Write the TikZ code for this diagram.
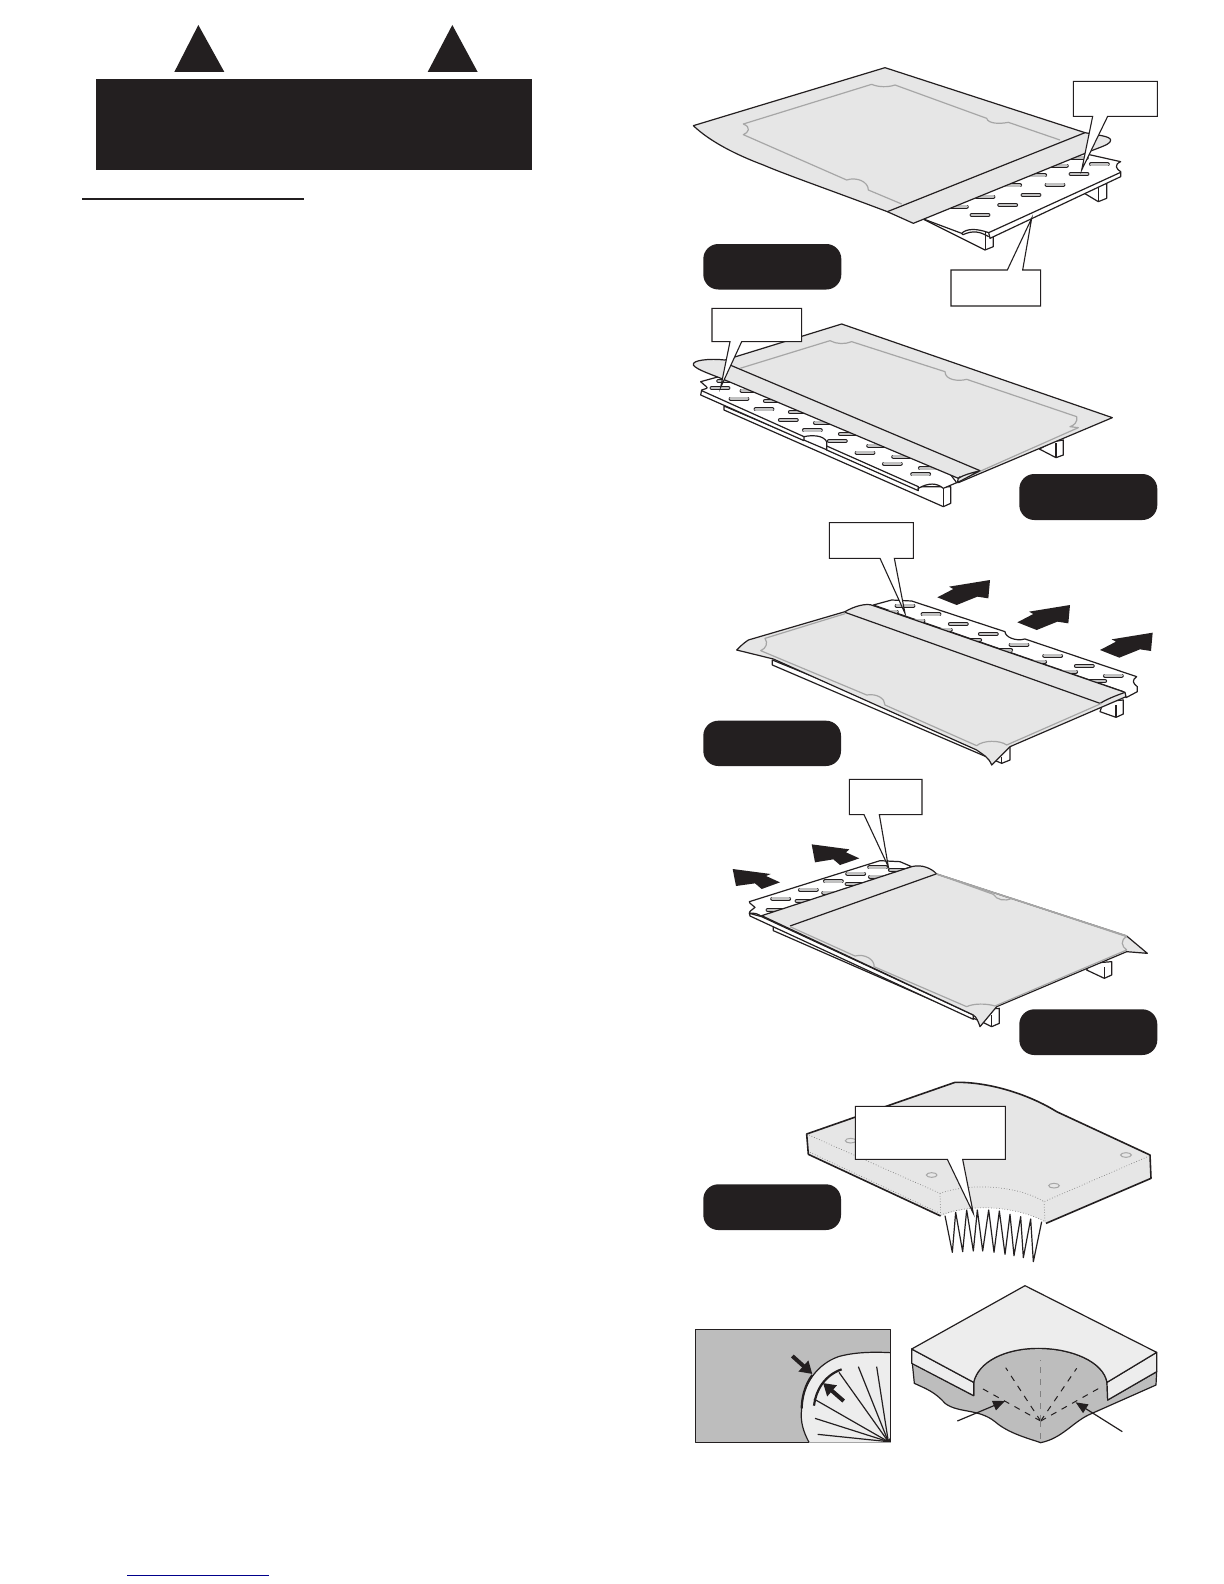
\documentclass[tikz,border=0pt]{standalone}
\usetikzlibrary{arrows.meta}
\definecolor{inkblk}{HTML}{231F20}
\definecolor{sheetgray}{HTML}{E6E6E6}
\definecolor{midgray}{HTML}{BDBDBD}
\definecolor{edgegray}{HTML}{A6A6A6}
\definecolor{paleface}{HTML}{EDEDED}
\definecolor{linkblue}{HTML}{00008B}
\tikzset{
  ln/.style={draw=inkblk,line width=0.6pt,line join=round},
  board/.style={ln,fill=white},
  sheet/.style={ln,fill=sheetgray},
  inner/.style={draw=edgegray,line width=0.6pt,line join=round},
  callout/.style={draw=inkblk,line width=0.55pt,fill=white,line join=miter},
  blockarrow/.style={fill=inkblk,draw=none},
  pill/.style={fill=inkblk,draw=none,rounded corners=7.5pt},
  panel/.style={shift={#1},scale=0.33333},
}
% slot centred at (#1,#2) in panel coordinates
\newcommand{\slotat}[2]{%
  \draw[inkblk,line width=2.1pt,line cap=round] (#1-25,#2) -- (#1+25,#2);
  \draw[edgegray!70,line width=1.3pt,line cap=round] (#1-25,#2) -- (#1+25,#2);}
\begin{document}
\begin{tikzpicture}[x=0.5pt,y=-0.5pt]
\useasboundingbox (0,0) rectangle (1224,1584);
\fill[white] (0,0) rectangle (1224,1584);

%% ---------- Header ----------
\begin{scope}[panel={(70,15)}]
  \fill[inkblk] (385,30) -- (313,171) -- (463,171) -- cycle;
  \fill[inkblk] (1147,30) -- (1073,171) -- (1223,171) -- cycle;
  \fill[inkblk] (78,192) rectangle (1386,464);
  \draw[inkblk,line width=0.6pt] (37,552) -- (702,552);
\end{scope}
\draw[draw=linkblue,line width=0.5pt] (127,1575) -- (269,1575);

%% ---------- Pills ----------
\fill[pill] (703.3,244) rectangle (841.3,289.5);
\fill[pill] (1019.3,474) rectangle (1157.3,520);
\fill[pill] (703.3,720.7) rectangle (841,766);
\fill[pill] (1019.3,1009.3) rectangle (1157.3,1055);
\fill[pill] (703.3,1184.3) rectangle (841,1230);

%% ---------- Panel 1 ----------
\begin{scope}[panel={(680,50)}]
  % feet
  \draw[board] (1205,425) -- (1255,455) -- (1280,445) -- (1280,400) -- (1250,410) -- cycle;
  \draw[ln] (1255,455) -- (1255,412);
  \draw[board] (725,505) -- (915,600) -- (940,590) -- (940,540) -- (900,520) -- cycle;
  \draw[ln] (917,600) -- (917,545);
  % board
  \draw[board] (1000,280) -- (1210,310) -- (1322,335) .. controls (1300,345) and (1310,358) .. (1322,365) -- (1322,380) -- (930,565) -- (926,548) .. controls (890,535) and (860,535) .. (845,550) -- (725,505) -- cycle;
  \draw[ln] (1322,367) -- (926,548);
  \draw[ln] (845,550) -- (849,554) .. controls (880,540) and (900,545) .. (926,560);
  \foreach \a/\b in {1197/372,1258/343,1125/404,1053/435,983/465,900/495,1195/323,1135/347,1070/376,995/406,915/440,835/470}{\slotat{\a}{\b}}
  % sheet
  \draw[sheet] (40,227) -- (615,53) -- (1215,248) .. controls (1250,255) and (1290,258) .. (1292,270) .. controls (1292,280) and (1280,285) .. (1240,300) -- (700,520) -- (622,485) .. controls (450,420) and (320,375) .. (250,345) .. controls (170,315) and (90,275) .. (40,227) -- cycle;
  \draw[ln] (622,485) -- (1215,248);
  \draw[inner] (1140,270) -- (985,217) .. controls (960,222) and (925,222) .. (920,205) -- (645,105) .. controls (625,112) and (595,112) .. (575,103) -- (190,222) .. controls (215,232) and (205,248) .. (190,254) -- (500,390) .. controls (530,380) and (565,395) .. (565,420) -- (665,462);
  % callouts
  \draw[callout] (1180,94) -- (1432,94) -- (1432,199) -- (1283,199) -- (1205,360) -- (1238,199) -- (1180,199) -- cycle;
  \draw[callout] (813,660) -- (982,660) -- (1055,505) -- (1028,660) -- (1082,660) -- (1082,768) -- (813,768) -- cycle;
\end{scope}

%% ---------- Panel 2 ----------
\begin{scope}[panel={(680,300)}]
  \draw[board] (1078,447) -- (1128,473) -- (1150,465) -- (1150,420) -- (1120,425) -- cycle;
  \draw[ln] (1128,473) -- (1128,430);
  % rail and front foot
  \draw[board] (132,318) -- (132,330) -- (790,620) -- (812,610) -- (812,560) -- (700,560) -- cycle;
  \draw[ln] (790,620) -- (790,565);
  % board
  \draw[board] (135,225) -- (62,245) .. controls (75,258) and (85,262) .. (80,265) -- (65,270) -- (62,285) -- (372,422) -- (372,410) .. controls (395,405) and (430,405) .. (440,425) -- (440,450) -- (715,572) -- (715,565) .. controls (745,548) and (770,548) .. (790,565) -- (830,548) -- (640,300) -- cycle;
  \draw[ln] (65,272) -- (372,410);
  \draw[ln] (440,438) -- (715,560) -- (715,572);
  \foreach \a/\b in {120/264,177/296,252/328,325/360,397/391,472/423,555/458,637/491,722/523,140/243,210/272,280/303,355/336,430/368,505/402,590/437,665/470,745/505}{\slotat{\a}{\b}}
  % sheet
  \draw[sheet] (485,72) -- (1297,353) -- (835,548) .. controls (838,530) and (845,525) .. (835,535) -- (135,240) .. controls (100,225) and (50,210) .. (40,195) .. controls (35,180) and (90,175) .. (135,180) -- cycle;
  \draw[ln] (150,195) -- (900,512);
  \draw[inner] (180,205) -- (450,122) .. controls (470,133) and (495,133) .. (515,125) -- (795,215) .. controls (795,240) and (835,245) .. (860,238) -- (1190,350) .. controls (1195,365) and (1180,378) .. (1170,380) -- (1195,383) -- (830,545);
  \draw[ln,fill=sheetgray] (835,535) .. controls (850,525) and (870,520) .. (900,512) -- (832,548) -- cycle;
  % callout
  \draw[callout] (96,25) -- (365,25) -- (365,125) -- (185,125) -- (122,262) -- (150,125) -- (96,125) -- cycle;
\end{scope}

%% ---------- Panel 3 ----------
\begin{scope}[panel={(690,515)}]
  \draw[board] (1230,590) -- (1278,607) -- (1300,597) -- (1300,555) -- (1240,560) -- cycle;
  \draw[ln] (1278,607) -- (1278,570);
  \draw[board] (247,435) -- (247,450) -- (935,745) -- (960,735) -- (960,695) -- (900,700) -- cycle;
  \draw[ln] (935,747) -- (935,725);
  % board
  \draw[board] (550,270) -- (605,255) -- (665,258) -- (945,350) .. controls (945,365) and (975,380) .. (1005,372) -- (1340,485) .. controls (1325,495) and (1328,505) .. (1342,515) -- (1342,530) -- (1308,548) -- (1300,530) -- cycle;
  \foreach \a/\b in {645/272,723/298,805/327,895/357,987/389,1088/422,1183/453,1270/482,595/290,675/317,757/344,845/375,938/406,1040/440,1133/470,1220/498}{\slotat{\a}{\b}}
  % sheet
  \draw[sheet] (140,405) .. controls (150,395) and (160,385) .. (175,375) -- (465,290) .. controls (490,275) and (530,262) .. (550,272) -- (1305,532) -- (1308,545) -- (960,695) -- (905,750) .. controls (895,725) and (880,720) .. (860,705) -- (250,432) -- cycle;
  \draw[ln] (465,292) -- (1230,565);
  \draw[ln] (1230,565) .. controls (1265,545) and (1290,538) .. (1305,532);
  \draw[inner] (465,296) -- (225,370) .. controls (235,385) and (228,400) .. (212,407) -- (530,540) .. controls (560,535) and (585,550) .. (585,570) -- (860,692) .. controls (880,675) and (930,675) .. (950,690) -- (1235,565);
  % arrows
  \fill[blockarrow] (900,195) -- (895,250) -- (862,245) -- (800,270) -- (742,247) -- (790,222) -- (777,215) -- cycle;
  \fill[blockarrow] (1140,270) -- (1135,325) -- (1102,320) -- (1040,345) -- (982,322) -- (1030,297) -- (1017,290) -- cycle;
  \fill[blockarrow] (1388,353) -- (1383,408) -- (1350,403) -- (1288,428) -- (1230,405) -- (1278,380) -- (1265,373) -- cycle;
  \draw[callout] (418,23) -- (670,23) -- (670,130) -- (613,130) -- (645,295) -- (570,130) -- (418,130) -- cycle;
\end{scope}

%% ---------- Panel 4 ----------
\begin{scope}[panel={(690,770)}]
  \draw[board] (1190,600) -- (1243,625) -- (1265,615) -- (1265,575) -- (1200,580) -- cycle;
  \draw[ln] (1243,625) -- (1243,590);
  \draw[board] (250,470) -- (250,482) -- (885,760) -- (905,770) -- (928,760) -- (928,715) -- (850,720) -- cycle;
  \draw[ln] (905,770) -- (905,735);
  % board
  \draw[board] (178,395) -- (570,272) -- (630,275) -- (665,290) -- (215,440) .. controls (205,432) and (195,428) .. (178,430) .. controls (178,420) and (190,420) .. (195,412) .. controls (190,405) and (178,402) .. (178,395) -- cycle;
  \draw[board] (178,430) -- (180,438) -- (850,748) -- (850,735) -- (215,440) -- cycle;
  \foreach \a/\b in {272/386,355/359,430/334,497/311,563/292,258/420,345/393,425/368,495/342,565/320,625/300}{\slotat{\a}{\b}}
  % sheet
  \draw[sheet] (215,437) -- (665,290) .. controls (695,282) and (725,295) .. (740,312) -- (1310,498) -- (1372,550) -- (1310,545) -- (920,710) -- (870,770) .. controls (865,755) and (860,742) .. (850,735) -- cycle;
  \draw[ln] (300,468) -- (738,312);
  \draw[inner] (740,312) -- (910,373) .. controls (920,390) and (945,395) .. (965,385) -- (1310,500) .. controls (1290,510) and (1295,530) .. (1310,540) -- (915,708) .. controls (890,700) and (850,700) .. (830,710) -- (552,590) .. controls (555,570) and (525,550) .. (495,558) -- (300,470);
  \draw[draw=edgegray,line width=0.8pt] (740,312) -- (1310,498);
  % arrows
  \fill[blockarrow] (128,297) -- (242,312) -- (228,318) -- (270,337) -- (215,357) -- (195,340) -- (138,348) -- cycle;
  \fill[blockarrow] (365,223) -- (478,238) -- (468,247) -- (508,265) -- (450,285) -- (430,268) -- (375,277) -- cycle;
  \draw[callout] (478,28) -- (696,28) -- (696,134) -- (568,134) -- (595,290) -- (522,134) -- (478,134) -- cycle;
\end{scope}

%% ---------- Panel 5 ----------
\begin{scope}[panel={(690,1065)}]
  % zigzag
  \draw[ln] (765,452) -- (787,562) -- (797,442) -- (818,560) -- (830,435) -- (850,558) -- (862,435) -- (878,558) -- (896,435) -- (912,562) -- (928,438) -- (945,568) -- (960,448) -- (972,572) -- (992,455) -- (1000,578) -- (1022,462) -- (1030,590) -- (1055,470);
  % mattress
  \fill[sheetgray] (350,207) -- (795,52) .. controls (900,50) and (1020,90) .. (1100,140) -- (1380,270) -- (1383,340) -- (1068,475) -- (1060,468) .. controls (990,430) and (860,410) .. (752,453) -- (355,268) -- cycle;
  \draw[ln,line width=0.8pt] (752,453) -- (355,268) -- (350,207) -- (795,52) .. controls (900,50) and (1020,90) .. (1100,140) -- (1380,270) -- (1383,340) -- (1068,475);
  \draw[draw=gray,densely dotted,line width=0.35pt] (350,207) -- (750,385) .. controls (850,350) and (990,365) .. (1062,410) -- (1380,272);
  \draw[draw=gray,densely dotted,line width=0.35pt] (750,385) -- (752,450) .. controls (860,410) and (990,430) .. (1065,470) -- (1062,410);
  \draw[draw=gray,densely dotted,line width=0.35pt] (360,262) -- (748,444);
  \foreach \a/\b in {482/227,725/330,1092/362,1308/270}{\draw[draw=edgegray,line width=0.5pt] (\a,\b) ellipse[x radius=16,y radius=7];}
  \draw[callout] (496,124) -- (946,124) -- (946,283) -- (818,283) -- (850,445) -- (772,283) -- (496,283) -- cycle;
\end{scope}

%% ---------- Bottom panels ----------
\begin{scope}[panel={(685,1275)}]
  % left view
  \fill[midgray] (31,163) rectangle (617,502);
  \fill[paleface] (372,502) .. controls (355,470) and (345,440) .. (350,400) .. controls (352,330) and (395,268) .. (460,245) .. controls (505,232) and (560,230) .. (617,233) -- (617,502) -- cycle;
  \draw[ln] (372,502) .. controls (355,470) and (345,440) .. (350,400) .. controls (352,330) and (395,268) .. (460,245) .. controls (505,232) and (560,230) .. (617,233);
  \draw[ln,line width=1.1pt] (350,400) .. controls (351,365) and (360,330) .. (382,300);
  \foreach \a/\b in {398/478,390/430,387/372,462/292,520/275,575/275}{\draw[ln] (610,500) -- (\a,\b);}
  \fill[inkblk] (606,497) -- (617,488) -- (617,502) -- (598,502) -- cycle;
  \draw[ln,line width=1.1pt] (387,392) .. controls (392,345) and (420,300) .. (470,283);
  \draw[ln] (31,163) -- (617,163) -- (617,502) (372,502) -- (31,502) -- (31,163);
  \draw[draw=edgegray,line width=0.6pt] (372,503) -- (617,503);
  \draw[inkblk,line width=2pt,-{Triangle[length=6pt,width=7pt]}] (322,243) -- (382,297);
  \draw[inkblk,line width=2pt,-{Triangle[length=6pt,width=7pt]}] (476,378) -- (414,324);
  % right view
  \draw[ln,fill=midgray] (682,265) -- (688,325) .. controls (720,340) and (750,350) .. (780,385) .. controls (820,415) and (880,400) .. (930,440) .. controls (970,475) and (1030,490) .. (1067,503) .. controls (1130,490) and (1160,445) .. (1210,420) -- (1413,330) -- (1415,290) -- (1268,375) -- (1266,322) .. controls (1255,260) and (1160,220) .. (1060,220) .. controls (960,220) and (880,260) .. (866,322) -- (866,362) -- cycle;
  \draw[ln,fill=paleface] (680,222) -- (680,265) -- (866,362) -- (866,322) -- cycle;
  \draw[ln,fill=paleface] (1266,322) -- (1268,375) -- (1415,290) -- (1415,232) -- cycle;
  \draw[ln,fill=paleface] (1020,32) -- (1415,232) -- (1266,322) .. controls (1255,260) and (1160,220) .. (1060,220) .. controls (960,220) and (880,260) .. (866,322) -- (680,222) -- cycle;
  \draw[inkblk,dashed,line width=0.5pt] (1067,438) -- (962,278);
  \draw[inkblk,dashed,line width=0.5pt] (1067,438) -- (1175,280);
  \draw[inkblk,dashed,line width=0.5pt] (1067,438) -- (887,338);
  \draw[inkblk,dashed,line width=0.5pt] (1067,438) -- (1245,338);
  \draw[gray,dashed,line width=0.6pt] (1067,438) -- (1067,255);
  \draw[gray,dashed,line width=0.6pt] (1067,438) -- (1067,503);
  \draw[ln,-{Triangle[length=6pt,width=5pt]}] (817,438) -- (960,378);
  \draw[ln,-{Triangle[length=6pt,width=5pt]}] (1312,470) -- (1172,382);
\end{scope}
\end{tikzpicture}
\end{document}
